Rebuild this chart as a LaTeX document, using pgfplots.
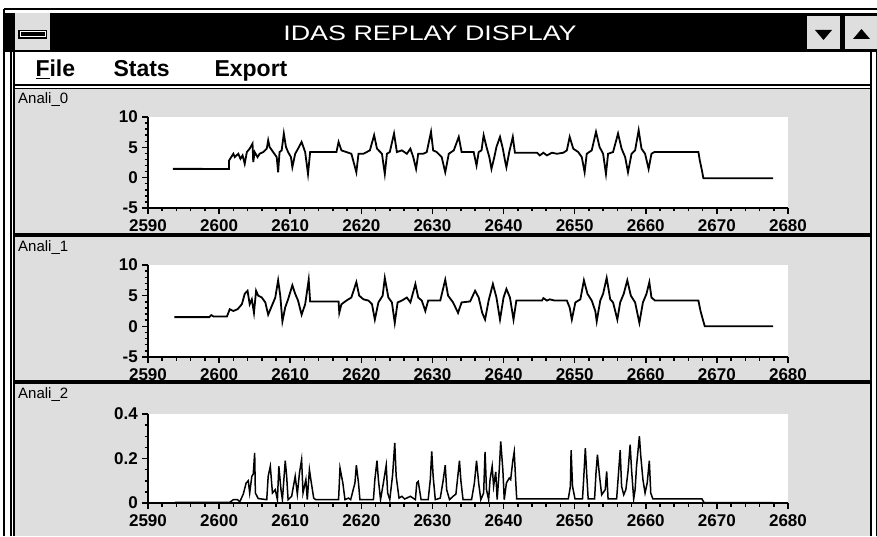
\documentclass[border=0pt]{standalone}
\usepackage{fontspec}
\setmainfont{Liberation Sans}
\newfontfamily\widefont[FakeStretch=1.28]{Liberation Sans}
\usepackage{pgfplots}
\pgfplotsset{compat=1.18}
\definecolor{stip}{gray}{0.87}
\pgfplotsset{idas/.style={
  scale only axis, width=640pt,
  xmin=2590, xmax=2680, xtick={2590,2600,...,2680}, minor x tick num=4,
  axis x line*=bottom, axis y line*=left,
  axis line style={line width=2pt,-},
  tick align=outside, major tick length=6pt, minor tick length=3.5pt,
  tick style={black,line width=1.5pt},
  tick label style={font=\fontsize{17}{17}\selectfont\bfseries, inner sep=1pt},
  xticklabel style={yshift=-4pt},
  yticklabel style={xshift=-3pt},
  /pgf/number format/assume math mode=true,
  /pgf/number format/1000 sep={},
  axis background/.style={fill=white},
}}
\begin{document}
\begin{tikzpicture}
\path[use as bounding box] (0,0) rectangle (877pt,536pt);
\begin{scope}[x=1pt,y=-1pt,shift={(0pt,536pt)}]
  % background
  \fill[white] (0,0) rectangle (877,536);
  % panels stippled
  \fill[stip] (14,89) rectangle (871,536);
  % title bar
  \draw[line width=1.5pt] (4,9) -- (877,9);
  \fill[black] (4,13) rectangle (877,52);
  \fill[stip] (15,13) rectangle (50,50);
  \fill[black] (18,30) rectangle (47,39);
  \draw[white,line width=1pt] (20,32) rectangle (45,37);
  \node[white,font=\widefont\fontsize{21}{21}\selectfont] at (430,33) {IDAS REPLAY DISPLAY};
  \fill[stip] (807,16) rectangle (840,49);
  \fill[stip] (845,16) rectangle (877,49);
  \fill[black] (815,30) -- (832,30) -- (823.5,40) -- cycle;
  \fill[black] (853,39) -- (870,39) -- (861.5,29) -- cycle;
  % menu bar
  \fill[white] (14,52) rectangle (871,85);
  \node[anchor=base west,font=\fontsize{23}{23}\selectfont\bfseries] at (32,77) {\underline{F}ile};
  \node[anchor=base west,font=\fontsize{23}{23}\selectfont\bfseries] at (110,77) {Stats};
  \node[anchor=base west,font=\fontsize{23}{23}\selectfont\bfseries] at (211,77) {Export};
  \draw[line width=2pt] (14,85.5) -- (871,85.5);
  \draw[line width=1pt] (14,89) -- (871,89);
  % separators
  \fill[black] (14,233) rectangle (871,237);
  \fill[black] (14,380) rectangle (871,384);
  % window frame
  \draw[line width=2pt] (4,9) -- (4,536);
  \draw[line width=2pt] (11,52) -- (11,536);
  \draw[line width=1.5pt] (14,52) -- (14,536);
  \draw[line width=2pt] (871,52) -- (871,536);
  \draw[line width=1pt] (876,52) -- (876,536);
  % panel labels
  \node[anchor=west,font=\fontsize{15}{15}\selectfont,inner sep=0pt] at (18,100) {Anali\_0};
  \node[anchor=west,font=\fontsize{15}{15}\selectfont,inner sep=0pt] at (18,248) {Anali\_1};
  \node[anchor=west,font=\fontsize{15}{15}\selectfont,inner sep=0pt] at (18,395) {Anali\_2};
\end{scope}

% ---------- Panel 1 ----------
\begin{axis}[idas, at={(148pt,328pt)}, anchor=south west, height=91pt,
  ymin=-5, ymax=10, ytick={-5,0,5,10}, minor y tick num=4]
\addplot[black, line width=1.8pt, no markers, sharp plot] coordinates {(2593.5,1.45)(2601.4,1.44)(2601.4,2.83)(2602.0,3.94)(2602.2,3.39)(2602.7,3.94)(2603.0,3.11)(2603.3,3.67)(2603.6,2.28)(2603.9,4.22)(2604.3,4.78)(2604.7,5.61)(2604.8,2.56)(2605.0,4.22)(2605.4,3.39)(2605.7,3.94)(2606.2,4.22)(2606.7,4.78)(2606.9,6.17)(2607.1,5.06)(2607.6,4.22)(2608.1,3.39)(2608.3,0.89)(2608.5,4.22)(2608.8,4.5)(2609.1,7.28)(2609.4,5.06)(2609.7,4.22)(2610.1,3.39)(2610.3,1.72)(2610.7,3.94)(2611.1,4.78)(2611.6,5.89)(2612.1,4.22)(2612.5,0.61)(2612.8,4.22)(2616.5,4.22)(2616.8,5.89)(2617.2,4.5)(2617.9,4.22)(2618.6,3.94)(2619.3,0.89)(2619.6,3.94)(2620.3,3.94)(2621.2,4.5)(2621.8,7.0)(2622.2,4.78)(2622.9,3.94)(2623.3,0.61)(2623.6,3.94)(2624.0,4.22)(2624.6,7.28)(2625.0,4.22)(2625.7,4.5)(2626.4,3.94)(2626.9,4.78)(2627.3,3.39)(2627.7,1.44)(2628.0,3.94)(2628.7,3.94)(2629.2,4.22)(2629.8,7.56)(2630.1,4.5)(2630.6,4.22)(2631.3,3.39)(2631.8,0.89)(2632.3,3.94)(2633.0,4.5)(2633.7,6.72)(2634.1,4.22)(2635.8,4.22)(2636.2,2.0)(2636.5,4.22)(2636.9,4.5)(2637.2,7.0)(2637.6,5.06)(2638.0,3.39)(2638.3,1.44)(2638.7,3.39)(2639.0,5.06)(2639.5,6.72)(2639.9,4.78)(2640.2,2.83)(2640.4,1.72)(2640.8,4.22)(2641.3,6.72)(2641.6,4.11)(2644.7,4.11)(2645.1,3.67)(2645.6,4.11)(2646.1,3.67)(2646.8,4.11)(2647.5,3.94)(2648.4,4.11)(2648.9,4.5)(2649.3,6.72)(2649.8,4.78)(2650.5,4.22)(2651.0,3.39)(2651.4,0.89)(2651.7,3.94)(2652.4,4.5)(2653.0,7.56)(2653.5,5.06)(2654.0,3.94)(2654.4,0.61)(2654.7,3.94)(2655.4,4.22)(2656.1,7.28)(2656.6,4.78)(2657.1,3.39)(2657.5,0.89)(2658.0,3.94)(2658.5,4.5)(2659.0,7.83)(2659.4,4.78)(2659.9,3.94)(2660.4,1.44)(2660.8,3.94)(2661.2,4.22)(2667.4,4.22)(2667.6,2.83)(2667.9,1.17)(2668.1,-0.1)(2677.9,-0.1)};
\end{axis}

% ---------- Panel 2 ----------
\begin{axis}[idas, at={(148pt,179pt)}, anchor=south west, height=92pt,
  ymin=-5, ymax=10, ytick={-5,0,5,10}, minor y tick num=4]
\addplot[black, line width=1.8pt, no markers, sharp plot] coordinates {(2593.7,1.5)(2598.6,1.5)(2598.9,1.83)(2599.2,1.6)(2601.1,1.6)(2601.5,2.8)(2602.0,2.5)(2602.6,2.8)(2603.2,3.6)(2603.6,5.3)(2604.0,5.8)(2604.3,3.6)(2604.6,4.4)(2604.9,2.2)(2605.2,5.8)(2605.5,5.0)(2606.0,4.7)(2606.5,3.9)(2606.9,1.9)(2607.4,3.3)(2607.9,4.7)(2608.3,7.5)(2608.6,5.0)(2608.9,0.8)(2609.3,3.1)(2609.7,4.4)(2610.3,6.7)(2610.7,5.3)(2611.1,4.2)(2611.6,1.9)(2612.1,3.6)(2612.6,7.6)(2612.8,4.06)(2616.8,4.06)(2616.9,2.2)(2617.2,3.6)(2617.9,4.2)(2618.6,4.7)(2619.3,7.2)(2619.7,5.0)(2620.3,4.4)(2621.0,4.2)(2621.5,3.6)(2621.9,1.1)(2622.4,3.9)(2623.0,5.0)(2623.3,7.9)(2623.8,4.7)(2624.3,3.9)(2624.7,0.56)(2625.1,3.9)(2625.7,4.2)(2626.4,4.7)(2626.9,3.9)(2627.6,6.9)(2628.0,4.7)(2628.5,4.2)(2629.0,2.5)(2629.4,4.2)(2631.1,4.2)(2631.8,7.6)(2632.2,5.0)(2632.9,3.9)(2633.6,2.2)(2634.1,3.9)(2635.3,4.06)(2636.0,5.8)(2636.5,4.7)(2637.0,2.2)(2637.4,1.1)(2637.9,4.2)(2638.5,6.9)(2639.0,4.7)(2639.5,1.1)(2640.0,4.7)(2640.4,6.1)(2640.9,4.7)(2641.4,1.1)(2641.8,4.2)(2645.4,4.2)(2645.6,4.6)(2646.1,4.2)(2646.5,4.4)(2647.2,4.2)(2648.9,4.2)(2649.3,3.06)(2649.6,1.1)(2650.1,3.9)(2650.8,4.4)(2651.3,7.5)(2651.8,5.3)(2652.4,4.2)(2652.9,2.5)(2653.1,0.8)(2653.6,4.2)(2654.0,5.3)(2654.5,7.9)(2655.0,4.4)(2655.4,3.9)(2656.0,1.1)(2656.4,3.9)(2656.9,5.3)(2657.4,7.5)(2657.9,5.0)(2658.5,3.9)(2659.1,0.56)(2659.6,3.9)(2660.1,5.3)(2660.5,7.2)(2660.8,4.7)(2661.3,4.2)(2667.4,4.2)(2667.7,2.5)(2668.1,0.8)(2668.3,0.0)(2677.9,0.0)};
\end{axis}

% ---------- Panel 3 ----------
\begin{axis}[idas, at={(148pt,33pt)}, anchor=south west, height=89pt,
  ymin=0, ymax=0.4, ytick={0,0.2,0.4}, minor y tick num=3,
  yticklabel style={/pgf/number format/fixed,/pgf/number format/precision=1}]
\addplot[black, line width=1.5pt, no markers, sharp plot] coordinates {(2593.8,0.003)(2601.5,0.003)(2602.0,0.015)(2602.6,0.015)(2602.9,0.005)(2603.4,0.04)(2603.8,0.09)(2604.1,0.10)(2604.3,0.045)(2604.6,0.12)(2604.8,0.13)(2605.0,0.225)(2605.1,0.045)(2605.5,0.02)(2606.7,0.015)(2606.9,0.12)(2607.2,0.165)(2607.5,0.045)(2607.9,0.06)(2608.2,0.015)(2608.4,0.165)(2608.7,0.06)(2608.9,0.015)(2609.3,0.19)(2609.5,0.12)(2609.7,0.015)(2610.2,0.03)(2610.7,0.12)(2611.0,0.04)(2611.3,0.135)(2611.6,0.195)(2611.8,0.045)(2612.2,0.105)(2612.4,0.015)(2612.7,0.15)(2612.9,0.105)(2613.3,0.022)(2613.6,0.015)(2616.8,0.015)(2617.0,0.157)(2617.4,0.09)(2617.7,0.015)(2618.2,0.022)(2618.5,0.015)(2619.1,0.09)(2619.3,0.17)(2619.6,0.09)(2619.8,0.015)(2621.7,0.015)(2621.9,0.105)(2622.2,0.19)(2622.4,0.105)(2622.7,0.015)(2623.1,0.09)(2623.5,0.17)(2623.7,0.045)(2624.0,0.015)(2624.4,0.127)(2624.7,0.27)(2624.9,0.12)(2625.3,0.022)(2625.7,0.03)(2626.1,0.018)(2626.9,0.03)(2627.6,0.015)(2627.8,0.09)(2628.0,0.097)(2628.4,0.015)(2629.4,0.015)(2629.7,0.105)(2629.9,0.232)(2630.1,0.12)(2630.4,0.015)(2631.1,0.022)(2631.5,0.10)(2631.8,0.17)(2632.0,0.06)(2632.4,0.015)(2632.9,0.03)(2633.3,0.04)(2633.5,0.1)(2633.8,0.19)(2634.0,0.1)(2634.3,0.015)(2635.5,0.015)(2635.9,0.09)(2636.2,0.19)(2636.5,0.09)(2636.8,0.015)(2637.2,0.045)(2637.4,0.23)(2637.6,0.06)(2637.9,0.015)(2638.1,0.105)(2638.4,0.165)(2638.6,0.075)(2638.9,0.14)(2639.1,0.015)(2639.4,0.15)(2639.6,0.277)(2639.9,0.15)(2640.1,0.015)(2640.4,0.09)(2640.8,0.112)(2641.0,0.105)(2641.3,0.19)(2641.5,0.23)(2641.7,0.105)(2641.85,0.018)(2649.1,0.018)(2649.4,0.075)(2649.5,0.237)(2649.7,0.075)(2650.05,0.018)(2651.1,0.018)(2651.3,0.127)(2651.5,0.247)(2651.7,0.127)(2651.9,0.018)(2652.8,0.018)(2653.0,0.135)(2653.2,0.217)(2653.5,0.12)(2653.8,0.037)(2654.3,0.06)(2654.5,0.142)(2654.7,0.018)(2655.9,0.018)(2656.1,0.105)(2656.4,0.237)(2656.6,0.075)(2656.9,0.037)(2657.2,0.06)(2657.5,0.142)(2657.8,0.262)(2658.0,0.15)(2658.3,0.018)(2658.5,0.06)(2658.7,0.165)(2659.1,0.3)(2659.3,0.21)(2659.6,0.105)(2659.9,0.045)(2660.2,0.09)(2660.5,0.19)(2660.7,0.045)(2661.0,0.018)(2667.9,0.018)(2668.2,0.002)(2677.9,0.002)};
\end{axis}
\end{tikzpicture}
\end{document}
